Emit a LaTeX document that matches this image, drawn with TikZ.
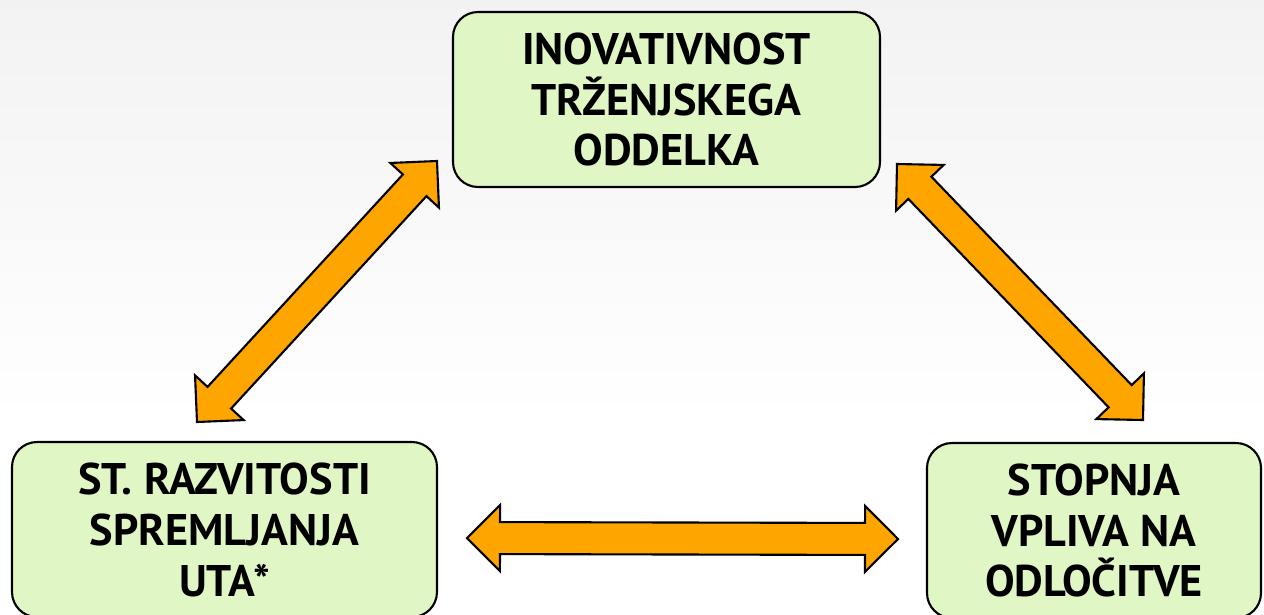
\documentclass[tikz,border=0pt]{standalone}
\usepackage{fontspec}
\setmainfont{PT Sans}
\usepackage{tikz}
\usetikzlibrary{positioning, calc}

\definecolor{boxgreen}{RGB}{224,246,196}
\definecolor{arroworange}{RGB}{255,165,0}

\begin{document}
\begin{tikzpicture}
	\tikzstyle{box} = [rectangle, rounded corners=0.25cm, minimum height=1.75cm,
	text centered, align=center, draw=black, line width=0.6pt, fill=boxgreen,
	outer sep=0pt, font=\fontsize{12.6pt}{14.5pt}\selectfont\bfseries]
	\tikzstyle{blockarrow} = [draw=black, fill=arroworange, line width=0.6pt,
	to path={
		-- ($(\tikztostart)!0.33cm!(\tikztotarget)!0.33cm!90:(\tikztotarget)$)
		-- ($(\tikztostart)!0.33cm!(\tikztotarget)!0.16cm!90:(\tikztotarget)$)
		-- ($(\tikztotarget)!0.33cm!(\tikztostart)!0.16cm!-90:(\tikztostart)$)
		-- ($(\tikztotarget)!0.33cm!(\tikztostart)!0.33cm!-90:(\tikztostart)$)
		-- (\tikztotarget)
		-- ($(\tikztotarget)!0.33cm!(\tikztostart)!0.33cm!90:(\tikztostart)$)
		-- ($(\tikztotarget)!0.33cm!(\tikztostart)!0.16cm!90:(\tikztostart)$)
		-- ($(\tikztostart)!0.33cm!(\tikztotarget)!0.16cm!-90:(\tikztotarget)$)
		-- ($(\tikztostart)!0.33cm!(\tikztotarget)!0.33cm!-90:(\tikztotarget)$)
		-- cycle}]
	\useasboundingbox (0,0) rectangle (12.64,-6.14);
	\clip (0,0) rectangle (12.64,-6.14);
	% background
	\fill[white] (0,0) rectangle (12.64,-6.14);
	\shade[top color=black!5, bottom color=white] (0,0) rectangle (12.64,-4.2);
	% boxes
	\node (inovativnost) [box, minimum width=4.27cm] at (6.665,-0.995)
	{INOVATIVNOST\\TRŽENJSKEGA\\ODDELKA};
	\node (razvitost) [box, minimum width=4.25cm, below left=2.55cm and 0.16cm of inovativnost]
	{ST. RAZVITOSTI\\SPREMLJANJA\\UTA*};
	\node (vpliv) [box, minimum width=3.34cm, below right=2.56cm and 0.47cm of inovativnost]
	{STOPNJA\\VPLIVA NA\\ODLOČITVE};
	% arrow ends
	\coordinate (leftTop) at ([shift={(-0.16,0.26)}]inovativnost.south west);
	\coordinate (leftBottom) at ([shift={(-0.275,0.20)}]razvitost.north);
	\coordinate (rightTop) at ([shift={(0.17,0.23)}]inovativnost.south east);
	\coordinate (rightBottom) at ([shift={(0.49,0.23)}]vpliv.north);
	\coordinate (midLeft) at ([shift={(0.30,-0.085)}]razvitost.east);
	\coordinate (midRight) at ([shift={(-0.29,-0.085)}]vpliv.west);
	\draw [blockarrow] (leftBottom) to (leftTop);
	\draw [blockarrow] (rightTop) to (rightBottom);
	\draw [blockarrow] (midLeft) to (midRight);
\end{tikzpicture}
\end{document}
